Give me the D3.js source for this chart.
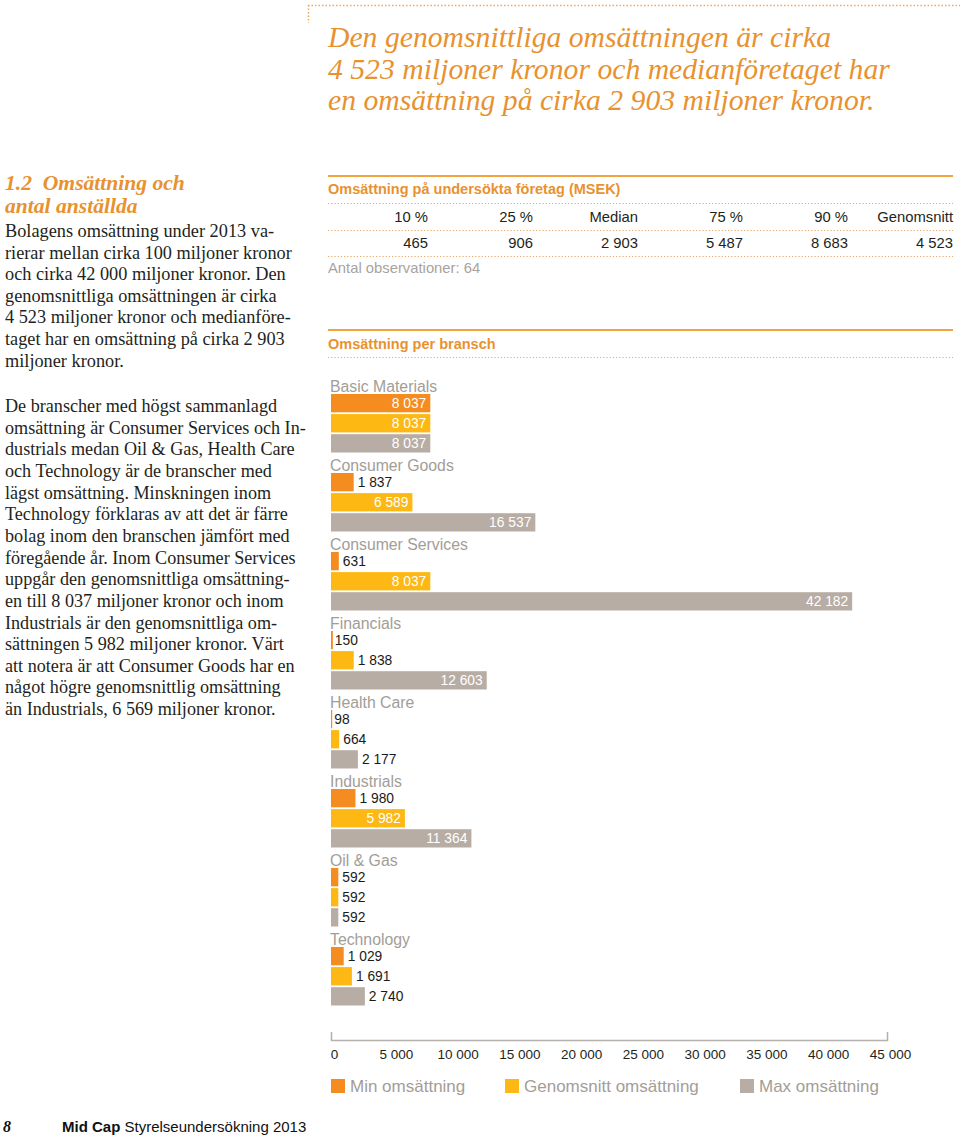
<!DOCTYPE html>
<html>
<head>
<meta charset="utf-8">
<script src="https://cdn.jsdelivr.net/npm/d3@7"></script>
<style>
  html, body { margin: 0; padding: 0; background: #fff; }
  svg { display: block; }
</style>
</head>
<body>
<svg id="chart" width="960" height="1137"></svg>
<script>
// ---------- DATA ----------
const categories = ["Basic Materials", "Consumer Goods", "Consumer Services", "Financials",
                    "Health Care", "Industrials", "Oil & Gas", "Technology"];
const seriesNames = ["Min omsättning", "Genomsnitt omsättning", "Max omsättning"];
const minValues = [8037, 1837, 631, 150, 98, 1980, 592, 1029];
const avgValues = [8037, 6589, 8037, 1838, 664, 5982, 592, 1691];
const maxValues = [8037, 16537, 42182, 12603, 2177, 11364, 592, 2740];
const axisTicks = [0, 5000, 10000, 15000, 20000, 25000, 30000, 35000, 40000, 45000];

const tableHeaders = ["10 %", "25 %", "Median", "75 %", "90 %", "Genomsnitt"];
const tableValues = [465, 906, 2903, 5487, 8683, 4523];
const observations = 64;

const titleLines = [
  "Den genomsnittliga omsättningen är cirka",
  "4 523 miljoner kronor och medianföretaget har",
  "en omsättning på cirka 2 903 miljoner kronor."
];
const headingLines = ["1.2\u2002Omsättning och", "antal anställda"];
const para1 = [
  "Bolagens omsättning under 2013 va-",
  "rierar mellan cirka 100 miljoner kronor",
  "och cirka 42 000 miljoner kronor. Den",
  "genomsnittliga omsättningen är cirka",
  "4 523 miljoner kronor och medianföre-",
  "taget har en omsättning på cirka 2 903",
  "miljoner kronor."
];
const para2 = [
  "De branscher med högst sammanlagd",
  "omsättning är Consumer Services och In-",
  "dustrials medan Oil & Gas, Health Care",
  "och Technology är de branscher med",
  "lägst omsättning. Minskningen inom",
  "Technology förklaras av att det är färre",
  "bolag inom den branschen jämfört med",
  "föregående år. Inom Consumer Services",
  "uppgår den genomsnittliga omsättning-",
  "en till 8 037 miljoner kronor och inom",
  "Industrials är den genomsnittliga om-",
  "sättningen 5 982 miljoner kronor. Värt",
  "att notera är att Consumer Goods har en",
  "något högre genomsnittlig omsättning",
  "än Industrials, 6 569 miljoner kronor."
];

// ---------- STYLE ----------
const ORANGE_TXT = "#e8922f";
const DOT = "#eaa864";
const colors = ["#f48c20", "#fdb813", "#b7ada4"];
const GREY_TXT = "#a39d97";
const SERIF = "'Liberation Serif', 'DejaVu Serif', serif";
const SANS = "'Liberation Sans', Arial, Helvetica, sans-serif";

const fmt = v => d3.format(",")(v).replace(/,/g, " ");

const svg = d3.select("#chart");

// helper: fit font size so that widest line has target width
function fitLines(g, lines, x, y0, lh, family, style, weight, fill, targetW, baseSize) {
  const sel = g.selectAll(null).data(lines).join("text")
    .attr("x", x).attr("y", (d, i) => y0 + i * lh)
    .attr("font-family", family).attr("font-style", style).attr("font-weight", weight)
    .attr("fill", fill).attr("font-size", baseSize).text(d => d);
  let maxW = 0;
  sel.each(function () { maxW = Math.max(maxW, this.getComputedTextLength()); });
  const size = baseSize * targetW / maxW;
  sel.attr("font-size", size);
  return sel;
}

// ---------- TOP DOTTED FRAME ----------
svg.append("line").attr("x1", 308).attr("x2", 960).attr("y1", 5.5).attr("y2", 5.5)
  .attr("stroke", DOT).attr("stroke-width", 1.5).attr("stroke-dasharray", "1.5,2");
svg.append("line").attr("x1", 308.5).attr("x2", 308.5).attr("y1", 5).attr("y2", 23)
  .attr("stroke", DOT).attr("stroke-width", 1.5).attr("stroke-dasharray", "1.5,2");

// ---------- TITLE ----------
fitLines(svg.append("g"), titleLines, 328, 47, 31.7, SERIF, "italic", "normal", ORANGE_TXT, 562, 28);

// ---------- LEFT COLUMN ----------
const left = svg.append("g");
fitLines(left.append("g"), headingLines, 5, 190, 23, SERIF, "italic", "bold", ORANGE_TXT, 180, 20);
fitLines(left.append("g"), para1, 5, 237, 21.6, SERIF, "normal", "normal", "#231f20", 287, 16);
fitLines(left.append("g"), para2, 5, 412, 21.65, SERIF, "normal", "normal", "#231f20", 301, 16);

// ---------- RIGHT PANEL: TABLE ----------
const R0 = 328, R1 = 953;
const panel = svg.append("g");
function solid(y) {
  panel.append("line").attr("x1", R0).attr("x2", R1).attr("y1", y).attr("y2", y)
    .attr("stroke", "#f0a33e").attr("stroke-width", 2);
}
function dotted(y) {
  panel.append("line").attr("x1", R0).attr("x2", R1).attr("y1", y).attr("y2", y)
    .attr("stroke", DOT).attr("stroke-width", 1.2).attr("stroke-dasharray", "1.2,2");
}
solid(176);
panel.append("text").attr("x", R0).attr("y", 194).attr("font-family", SANS)
  .attr("font-weight", "bold").attr("font-size", 14.5).attr("fill", ORANGE_TXT)
  .text("Omsättning på undersökta företag (MSEK)");
dotted(203.5);
const colX = d3.scaleLinear().domain([0, tableHeaders.length - 1]).range([428, R1]);
panel.selectAll(null).data(tableHeaders).join("text")
  .attr("x", (d, i) => colX(i)).attr("y", 222).attr("text-anchor", "end")
  .attr("font-family", SANS).attr("font-size", 14.8).attr("fill", "#231f20").text(d => d);
dotted(230.5);
panel.selectAll(null).data(tableValues).join("text")
  .attr("x", (d, i) => colX(i)).attr("y", 248).attr("text-anchor", "end")
  .attr("font-family", SANS).attr("font-size", 14.8).attr("fill", "#231f20").text(d => fmt(d));
dotted(256.5);
panel.append("text").attr("x", R0).attr("y", 273).attr("font-family", SANS)
  .attr("font-size", 14.8).attr("fill", "#a8a39e").text("Antal observationer: " + observations);

solid(330);
panel.append("text").attr("x", R0).attr("y", 349).attr("font-family", SANS)
  .attr("font-weight", "bold").attr("font-size", 14.5).attr("fill", ORANGE_TXT)
  .text("Omsättning per bransch");
dotted(357.5);

// ---------- BAR CHART ----------
const data = categories.map((c, i) => ({
  cat: c,
  vals: [minValues[i], avgValues[i], maxValues[i]]
}));

const x = d3.scaleLinear().domain([0, 45000]).range([331, 887]);
const yCat = d3.scaleBand().domain(categories).range([376, 376 + 79 * categories.length]);
const ySer = d3.scaleBand().domain(seriesNames).range([18, 76.5]).paddingInner(0.09);

const chart = svg.append("g");
const groups = chart.selectAll("g.grp").data(data).join("g")
  .attr("class", "grp")
  .attr("transform", d => `translate(0,${yCat(d.cat)})`);

groups.append("text").attr("x", 330).attr("y", 16)
  .attr("font-family", SANS).attr("font-size", 15.8).attr("fill", GREY_TXT)
  .text(d => d.cat);

const bars = groups.selectAll("g.bar")
  .data(d => d.vals.map((v, j) => ({ v, s: seriesNames[j], j })))
  .join("g").attr("class", "bar");

bars.append("rect")
  .attr("x", x(0))
  .attr("y", d => ySer(d.s))
  .attr("width", d => Math.max(0, x(d.v) - x(0)))
  .attr("height", ySer.bandwidth())
  .attr("fill", d => colors[d.j]);

bars.append("text")
  .attr("y", d => ySer(d.s) + ySer.bandwidth() / 2)
  .attr("dy", "0.36em")
  .attr("font-family", SANS).attr("font-size", 13.8)
  .text(d => fmt(d.v))
  .each(function (d) {
    const w = this.getComputedTextLength();
    const bw = x(d.v) - x(0);
    const t = d3.select(this);
    if (bw > w + 10) {
      t.attr("x", x(d.v) - 4).attr("text-anchor", "end").attr("fill", "#ffffff");
    } else {
      t.attr("x", x(d.v) + (d.v < 300 ? 2 : 4)).attr("text-anchor", "start").attr("fill", "#1a1a1a");
    }
  });

// ---------- AXIS ----------
const axis = d3.axisBottom(x)
  .tickValues(axisTicks)
  .tickFormat(fmt)
  .tickSizeInner(0)
  .tickSizeOuter(-8)
  .tickPadding(9);
const axG = chart.append("g").attr("transform", "translate(0,1040)").call(axis);
axG.select(".domain").attr("stroke", "#b5b0ab").attr("stroke-width", 1.5);
axG.selectAll(".tick line").remove();
axG.selectAll(".tick text").attr("font-family", SANS).attr("font-size", 13.5).attr("fill", "#231f20")
  .attr("dx", (d, i) => i === 0 ? 3 : 3);

// ---------- LEGEND ----------
const legX = [331, 505, 740];
const leg = chart.selectAll("g.leg").data(seriesNames).join("g")
  .attr("class", "leg")
  .attr("transform", (d, i) => `translate(${legX[i]},1079)`);
leg.append("rect").attr("width", 14).attr("height", 14).attr("fill", (d, i) => colors[i]);
leg.append("text").attr("x", 19).attr("y", 13)
  .attr("font-family", SANS).attr("font-size", 17).attr("fill", GREY_TXT).text(d => d);

// ---------- FOOTER ----------
svg.append("text").attr("x", 3).attr("y", 1132)
  .attr("font-family", SERIF).attr("font-style", "italic").attr("font-weight", "bold")
  .attr("font-size", 16).attr("fill", "#111").text("8");
const foot = svg.append("text").attr("x", 62).attr("y", 1132)
  .attr("font-family", SANS).attr("font-size", 15).attr("fill", "#111");
foot.append("tspan").attr("font-weight", "bold").text("Mid Cap ");
foot.append("tspan").text("Styrelseundersökning 2013");
</script>
</body>
</html>
